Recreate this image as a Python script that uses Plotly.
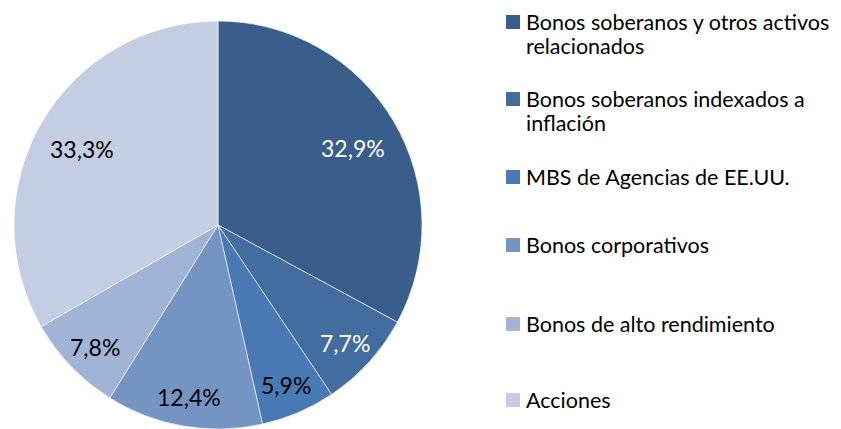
import math
import plotly.graph_objects as go

categories = [
    "Bonos soberanos y otros activos relacionados",
    "Bonos soberanos indexados a inflación",
    "MBS de Agencias de EE.UU.",
    "Bonos corporativos",
    "Bonos de alto rendimiento",
    "Acciones",
]
legend_lines = [
    ["Bonos soberanos y otros activos", "relacionados"],
    ["Bonos soberanos indexados a", "inflación"],
    ["MBS de Agencias de EE.UU."],
    ["Bonos corporativos"],
    ["Bonos de alto rendimiento"],
    ["Acciones"],
]
values = [32.9, 7.7, 5.9, 12.4, 7.8, 33.3]
colors = ["#3A5E8B", "#436C9F", "#4A7AB5", "#7494C4", "#A2B4D6", "#C4CEE3"]
label_colors = ["white", "white", "black", "black", "black", "black"]

FONT = "Lato, Carlito, Calibri, sans-serif"
W, H = 841, 429

# pie geometry (pixels)
CX, CY, R = 218, 225, 204

fig = go.Figure()
fig.add_trace(go.Pie(
    labels=categories,
    values=values,
    sort=False,
    direction="clockwise",
    rotation=0,
    marker=dict(colors=colors, line=dict(color="white", width=0.6)),
    textinfo="none",
    hoverinfo="label+percent",
    showlegend=False,
    domain=dict(x=[(CX - R) / W, (CX + R) / W], y=[(H - CY - R) / H, (H - CY + R) / H]),
))

annotations = []
shapes = []

# data labels placed on each slice's bisector
total = sum(values)
cum = 0.0
for v, tc in zip(values, label_colors):
    mid = (cum + v / 2) / total * 2 * math.pi
    cum += v
    rf = 0.77 if v / total > 0.2 else 0.84
    px = CX + rf * R * math.sin(mid)
    py = CY - rf * R * math.cos(mid) + 3
    annotations.append(dict(text=f"{v:.1f}%".replace(".", ","), xref="paper", yref="paper",
                            x=px / W, y=1 - py / H, xanchor="center", yanchor="middle",
                            showarrow=False,
                            font=dict(family=FONT, size=23, color=tc)))

# legend drawn as squares + text
legend_y = [22, 99, 177, 245, 324, 400]  # first-line centre, px from top
LINE = 24.5
for lines, col, yc in zip(legend_lines, colors, legend_y):
    shapes.append(dict(type="rect", xref="paper", yref="paper",
                       x0=506 / W, x1=520 / W,
                       y0=1 - (yc + 7) / H, y1=1 - (yc - 7) / H,
                       fillcolor=col, line=dict(width=0)))
    for i, ln in enumerate(lines):
        annotations.append(dict(text=ln, xref="paper", yref="paper",
                                x=524 / W, y=1 - (yc + i * LINE) / H,
                                xanchor="left", yanchor="middle", align="left",
                                showarrow=False,
                                font=dict(family=FONT, size=21.5, color="black")))

fig.update_layout(
    width=W, height=H,
    margin=dict(l=0, r=0, t=0, b=0),
    paper_bgcolor="white", plot_bgcolor="white",
    separators=",.",
    shapes=shapes,
    annotations=annotations,
)
fig.write_html("out.html", config={"displayModeBar": False},
               post_script="document.body.style.margin='0';document.body.style.overflow='hidden';")
